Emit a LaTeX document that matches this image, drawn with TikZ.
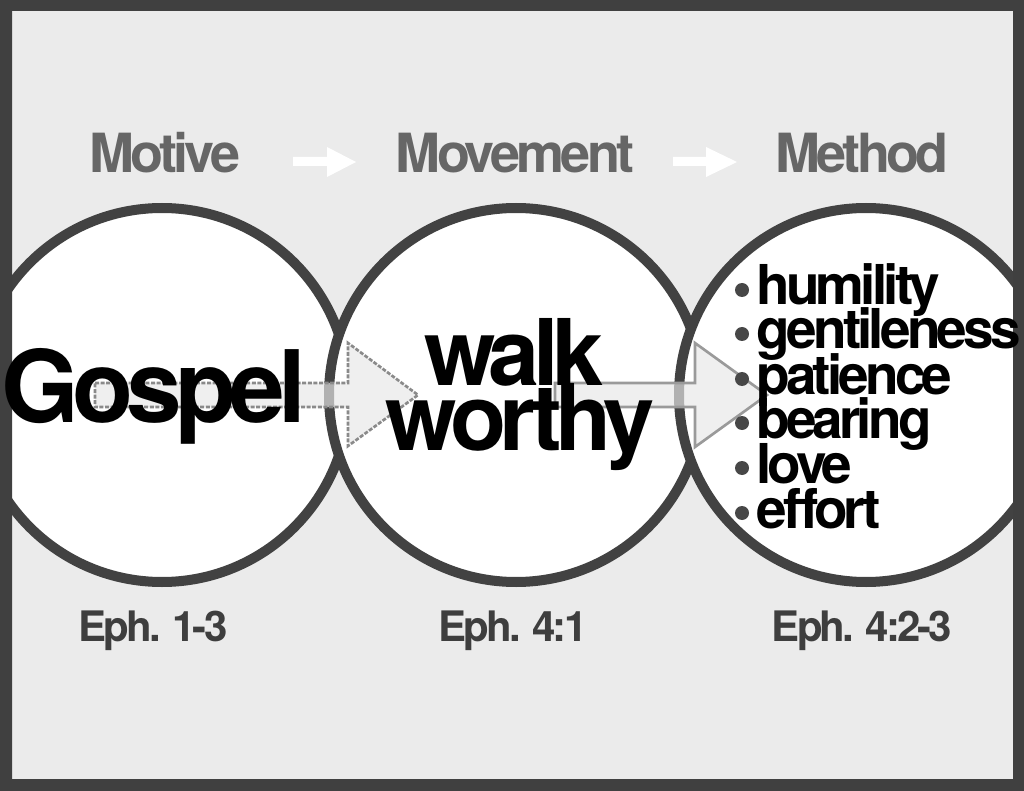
\documentclass[tikz,border=0pt]{standalone}
\usepackage{fontspec}
\setmainfont{TeX Gyre Heros}
\newfontfamily\hv[LetterSpace=-7]{TeX Gyre Heros}
\definecolor{framecol}{HTML}{404040}
\definecolor{bgcol}{HTML}{EBEBEB}
\definecolor{circcol}{HTML}{424242}
\definecolor{toplab}{HTML}{666666}
\definecolor{botlab}{HTML}{3E3E3E}
\definecolor{arrfill}{HTML}{E8E8E8}
\definecolor{arrline}{HTML}{8A8A8A}
\definecolor{arrline2}{HTML}{9A9A9A}
\definecolor{dotcol}{HTML}{474747}
\begin{document}
\begin{tikzpicture}[x=0.75pt,y=-0.75pt,
  lbl/.style={inner sep=0pt, anchor=base, font=\hv\bfseries\fontsize{40.5}{40.5}\selectfont, text=toplab},
  reflbl/.style={inner sep=0pt, anchor=base, font=\hv\bfseries\fontsize{31.5}{31.5}\selectfont, text=botlab},
  bigtxt/.style={inner sep=0pt, anchor=base, font=\hv\bfseries\fontsize{75}{75}\selectfont, text=black},
  midtxt/.style={inner sep=0pt, anchor=base, font=\hv\bfseries\fontsize{69}{69}\selectfont, text=black},
  itemtxt/.style={inner sep=0pt, anchor=base west, font=\hv\bfseries\fontsize{41.2}{41.2}\selectfont, text=black},
  circ/.style={circle, draw=circcol, fill=white, line width=7.5pt, minimum size=280.5pt, inner sep=0pt},
  blockarrow/.style={fill=arrfill, fill opacity=0.67},
  whitearrow/.style={fill=white},
  bulletdot/.style={fill=dotcol}
]
\useasboundingbox (0,0) rectangle (1024,791);
% background
\fill[bgcol] (0,0) rectangle (1024,791);

% circles
\node[circ] (c1) at (162,395) {};
\node[circ] (c2) at (516,395) {};
\node[circ] (c3) at (866,395) {};

% block arrows
\coordinate (a1t) at (418,395);
\fill[blockarrow] (95,383) -- (348,383) -- (348,343) -- (a1t) -- (348,446) -- (348,407) -- (95,407) -- cycle;
\draw[arrline, line width=2pt, dash pattern=on 3pt off 1.2pt]
  (95,383) -- (348,383) -- (348,343) -- (a1t) -- (348,446) -- (348,407) -- (95,407) -- cycle;

\coordinate (a2t) at (767,395);
\fill[blockarrow] (555,383) -- (695,383) -- (695,343) -- (a2t) -- (695,447) -- (695,407) -- (555,407) -- cycle;
\draw[arrline2, line width=2pt, line join=miter]
  (555,383) -- (695,383) -- (695,343) -- (a2t) -- (695,447) -- (695,407) -- (555,407) -- cycle;

% frame on top
\fill[framecol, even odd rule] (0,0) rectangle (1024,791) (12,11) rectangle (1013,779);

% top labels
\node[lbl] (motive) at (165,173) {Motive};
\node[lbl] (movement) at (515,173) {Movement};
\node[lbl] (method) at (862,173) {Method};

% small white arrows
\fill[whitearrow] (293,157) -- (327,157) -- (327,147) -- (356,162) -- (327,177) -- (327,166) -- (293,166) -- cycle;
\fill[whitearrow] (673,157) -- (706,157) -- (706,147) -- (737,162) -- (706,177) -- (706,166) -- (673,166) -- cycle;

% circle texts
\node[bigtxt] (gospel) at (154,422) {Gospel};
\node[midtxt] (walk) at (514,385) {walk};
\node[midtxt] (worthy) at (520,450) {worthy};

% list
\foreach \t/\b [count=\i] in {humility/305, gentileness/349, patience/394, bearing/438, love/483, effort/528}{
  \fill[bulletdot] (742,\b-15) circle[radius=7];
  \node[itemtxt] (item\i) at (756,\b) {\t};
}

% references
\node[reflbl] (ref1) at (153,641) {Eph. 1-3};
\node[reflbl] (ref2) at (513,641) {Eph. 4:1};
\node[reflbl] (ref3) at (862,641) {Eph. 4:2-3};
\end{tikzpicture}
\end{document}
